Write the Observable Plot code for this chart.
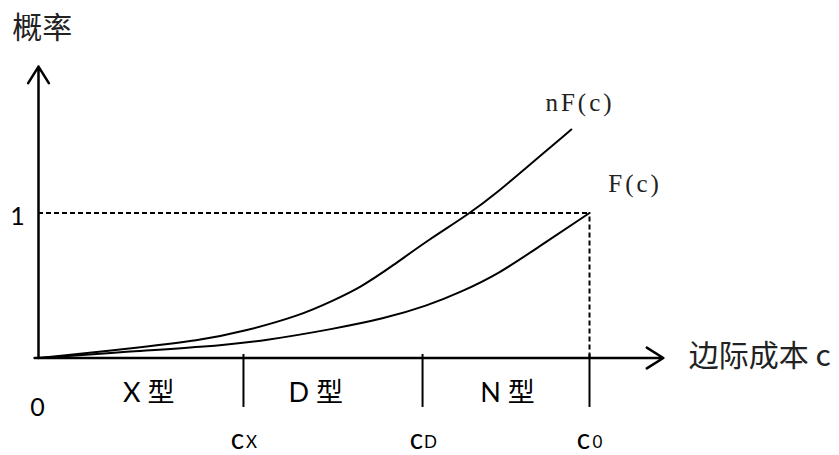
<!DOCTYPE html>
<html>
<head>
<meta charset="utf-8">
<script src="https://cdn.jsdelivr.net/npm/d3@7"></script>
<script src="https://cdn.jsdelivr.net/npm/@observablehq/plot@0.6"></script>
<style>
  html, body { margin: 0; padding: 0; background: #fff; }
  svg { display: block; }
</style>
</head>
<body>
<div id="chart"></div>
<script>
// ---- data (x in cost units where c0 = 10, y in probability units) ----
const costF = [0, 1.67, 2.94, 4.16, 5.35, 6.26, 7.06, 7.66, 8.35, 9.06, 10];
const probF = [0, 0.045, 0.074, 0.121, 0.201, 0.270, 0.361, 0.454, 0.580, 0.762, 1.0];
const costNF = [0, 1.67, 2.94, 3.72, 4.75, 5.35, 5.84, 6.44, 7.06, 7.84, 8.35, 8.75, 9.67];
const probNF = [0, 0.066, 0.121, 0.183, 0.293, 0.397, 0.485, 0.639, 0.811, 0.999, 1.150, 1.279, 1.576];

const cutValues = [3.72, 6.97, 10];          // c_X, c_D, c_0
const cutSubscripts = ["X", "D", "0"];
const typeNames = ["X 型", "D 型", "N 型"];
const typeCenters = [2.0, 5.03, 8.51];

const c0 = 10;
const xAxisStart = -0.07, xAxisEnd = 11.34;
const yAxisEnd = 2.01;
const tickTop = 0.024, tickBottom = -0.341;

const FONT_LATIN = "Lato, 'Noto Sans CJK SC', sans-serif";
const FONT_CJK = "'Noto Sans CJK SC', sans-serif";
const FONT_SERIF = "'Liberation Serif', 'DejaVu Serif', serif";

const fData = costF.map((c, i) => ({c, p: probF[i]}));
const nfData = costNF.map((c, i) => ({c, p: probNF[i]}));
const axes = [
  {x1: xAxisStart, y1: 0, x2: xAxisEnd, y2: 0},
  {x1: 0, y1: 0, x2: 0, y2: yAxisEnd}
];
const cutData = cutValues.map((v, i) => ({v, sub: cutSubscripts[i]}));
const typeData = typeNames.map((t, i) => ({t, x: typeCenters[i]}));

const chart = Plot.plot({
  width: 839,
  height: 455,
  x: {domain: [0, 10], range: [38, 589], axis: null},
  y: {domain: [0, 1], range: [357.5, 212.5], axis: null},
  style: {background: "#fff", overflow: "visible"},
  marks: [
    // dashed guides at F(c0) = 1
    Plot.ruleY([1], {x1: 0, x2: c0, stroke: "black", strokeWidth: 2, strokeDasharray: "5,3"}),
    Plot.ruleX([c0], {y1: 0, y2: 1, stroke: "black", strokeWidth: 2, strokeDasharray: "5,3"}),
    // ticks below the axis
    Plot.ruleX(cutValues, {y1: tickTop, y2: tickBottom, stroke: "black", strokeWidth: 2}),
    // curves
    Plot.line(fData, {x: "c", y: "p", curve: "basis", stroke: "black", strokeWidth: 2}),
    Plot.line(nfData, {x: "c", y: "p", curve: "basis", stroke: "black", strokeWidth: 2}),
    // axes with open arrowheads
    Plot.arrow(axes, {x1: "x1", y1: "y1", x2: "x2", y2: "y2", stroke: "black", strokeWidth: 2.5,
      headLength: 11.7, headAngle: 64}),
    // texts
    Plot.text(["概率"], {x: 0.07, y: 2.272, fontSize: 30, fontFamily: FONT_CJK, fill: "#222"}),
    Plot.text(["边际成本 c"], {x: 11.8, y: 0.01, textAnchor: "start", fontSize: 30, fontFamily: FONT_CJK, fill: "#222"}),
    Plot.text(["1"], {x: -0.38, y: 0.969, fontSize: 25, fontFamily: FONT_LATIN, fill: "black"}),
    Plot.text(["0"], {x: -0.02, y: -0.348, fontSize: 25, fontFamily: FONT_LATIN, fill: "black"}),
    Plot.text(["nF(c)"], {x: 9.2, y: 1.762, textAnchor: "start", fontSize: 25, fontFamily: FONT_SERIF, fill: "#222"}),
    Plot.text(["F(c)"], {x: 10.34, y: 1.203, textAnchor: "start", fontSize: 25, fontFamily: FONT_SERIF, fill: "#222"}),
    Plot.text(typeData, {x: "x", y: -0.245, text: "t", fontSize: 27, fontFamily: FONT_LATIN, fill: "black"}),
    Plot.text(cutData, {x: "v", y: -0.565, text: () => "c", dx: -6, fontSize: 28, fontFamily: FONT_LATIN, fill: "black"}),
    Plot.text(cutData, {x: "v", y: -0.565, text: "sub", dx: 8, dy: 3, fontSize: 17, fontFamily: FONT_LATIN, fill: "black"})
  ]
});
// letter spacing on the serif curve labels
chart.querySelectorAll("text").forEach(t => {
  if (t.textContent === "nF(c)" || t.textContent === "F(c)") t.setAttribute("letter-spacing", "3");
});
document.getElementById("chart").appendChild(chart);
</script>
</body>
</html>
